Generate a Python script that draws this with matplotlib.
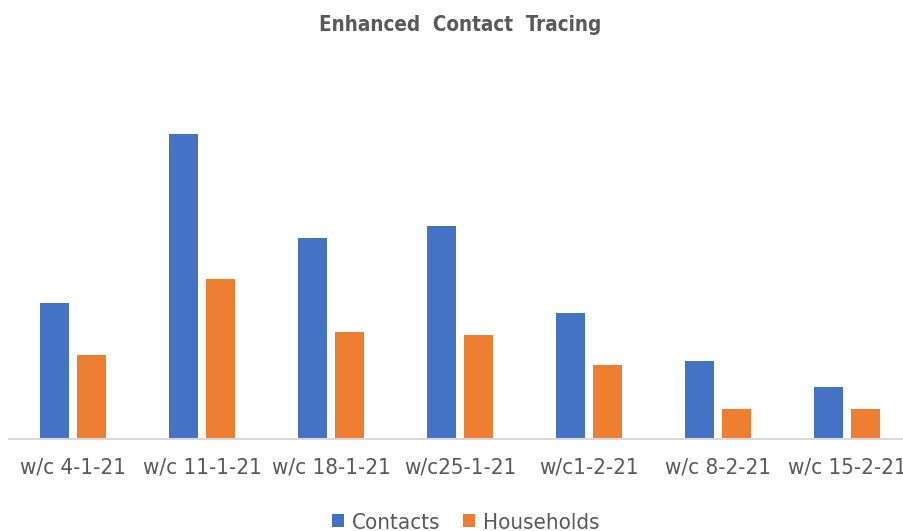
import matplotlib.pyplot as plt
import numpy as np

# data (arbitrary units)
weeks = ['w/c 4-1-21', 'w/c 11-1-21', 'w/c 18-1-21', 'w/c25-1-21',
         'w/c1-2-21', 'w/c 8-2-21', 'w/c 15-2-21']
contacts = [136, 305, 201, 213, 126, 78, 52]
households = [84, 160, 107, 104, 74, 30, 30]

plt.rcParams['font.family'] = ['DejaVu Sans']
plt.rcParams['font.stretch'] = 'condensed'

blue = '#4472C4'
orange = '#ED7D31'
grey = '#595959'

fig = plt.figure(figsize=(9.04, 5.31), dpi=100)
ax = fig.add_axes([8.5 / 904, 92 / 531, 903 / 904, 379 / 531])

x = np.arange(len(weeks))
w = 0.225
ax.bar(x - 0.145, contacts, w, color=blue, label='Contacts')
ax.bar(x + 0.145, households, w, color=orange, label='Households')

ax.set_xlim(-0.5, len(weeks) - 0.5)
ax.set_ylim(0, 379)
ax.set_yticks([])
ax.set_xticks(x)
ax.set_xticklabels(weeks, fontsize=16, color=grey, fontstretch='condensed')
ax.tick_params(axis='x', length=0, pad=13)
for s in ['top', 'right', 'left']:
    ax.spines[s].set_visible(False)
ax.spines['bottom'].set_color('#D9D9D9')
ax.spines['bottom'].set_linewidth(1.5)

fig.text(0.509, 0.953, 'Enhanced  Contact  Tracing', ha='center', va='center',
         fontsize=14.8, fontweight='bold', color=grey, fontstretch='condensed')

fig.legend(loc='center', bbox_to_anchor=(0.515, 0.016), ncol=2, frameon=False,
           prop={'size': 16, 'stretch': 'condensed'}, labelcolor=grey,
           handlelength=0.55, handleheight=0.55,
           handletextpad=0.35, columnspacing=1.0)

fig.savefig('out.png', dpi=100)
